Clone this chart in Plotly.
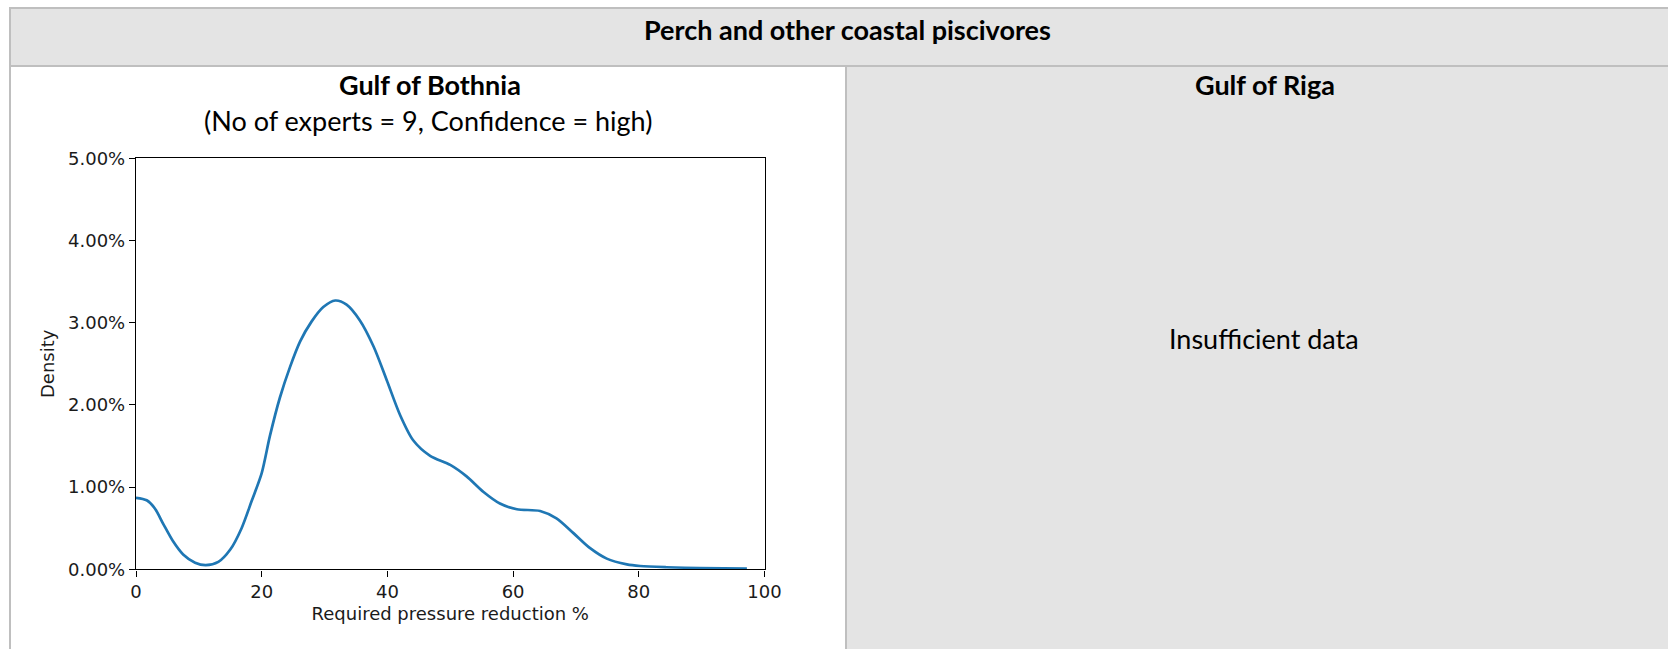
import plotly.graph_objects as go

# ---- data ----
reduction_pct = [0, 1.7, 3.0, 4.35, 5.9, 7.5, 9.4, 11.1, 13.1, 15.0, 16.8, 18.4, 20.0, 21.3,
                 22.9, 24.5, 26.1, 27.9, 29.8, 31.7, 33.5, 35.6, 37.8, 39.9, 42.0, 44.1, 46.8,
                 50.0, 52.6, 55.3, 57.9, 60.6, 64.3, 66.9, 69.6, 72.2, 74.9, 78.1, 80.2, 84.4,
                 89.7, 97.2]
density_pct = [0.87, 0.84, 0.74, 0.55, 0.34, 0.18, 0.08, 0.05, 0.09, 0.24, 0.50, 0.83, 1.17, 1.62,
               2.09, 2.46, 2.77, 3.01, 3.19, 3.27, 3.22, 3.03, 2.71, 2.30, 1.88, 1.57, 1.38,
               1.27, 1.13, 0.94, 0.80, 0.73, 0.71, 0.62, 0.44, 0.26, 0.13, 0.06, 0.04, 0.025,
               0.015, 0.01]
x_ticks = [0, 20, 40, 60, 80, 100]
y_ticks = [0.00, 0.01, 0.02, 0.03, 0.04, 0.05]

header_title = "Perch and other coastal piscivores"
left_title = "Gulf of Bothnia"
left_subtitle = "(No of experts = 9, Confidence = high)"
right_title = "Gulf of Riga"
right_note = "Insufficient data"

W, H = 1668, 649


def px(x):
    return x / W


def py(y):
    return 1 - y / H


density = [d / 100 for d in density_pct]

fig = go.Figure()
fig.add_trace(go.Scatter(
    x=reduction_pct, y=density, mode="lines",
    line=dict(color="#1f77b4", width=2.7, shape="spline", smoothing=0.8),
    showlegend=False, hoverinfo="skip"))

BORDER = "#bfbfbf"
FILL = "#e4e4e4"
shapes = [
    # header band
    dict(type="rect", xref="paper", yref="paper", x0=px(10), x1=1, y0=py(66), y1=py(8),
         fillcolor=FILL, line=dict(width=0), layer="below"),
    # right cell
    dict(type="rect", xref="paper", yref="paper", x0=px(846), x1=1, y0=0, y1=py(66),
         fillcolor=FILL, line=dict(width=0), layer="below"),
    # borders
    dict(type="line", xref="paper", yref="paper", x0=px(9), x1=1, y0=py(8), y1=py(8),
         line=dict(color=BORDER, width=2)),
    dict(type="line", xref="paper", yref="paper", x0=px(9), x1=1, y0=py(66), y1=py(66),
         line=dict(color=BORDER, width=2)),
    dict(type="line", xref="paper", yref="paper", x0=px(10), x1=px(10), y0=0, y1=py(7),
         line=dict(color=BORDER, width=2)),
    dict(type="line", xref="paper", yref="paper", x0=px(846), x1=px(846), y0=0, y1=py(66),
         line=dict(color=BORDER, width=2)),
]

TITLE_FONT = "Lato, 'Open Sans', sans-serif"
annotations = [
    dict(text="<b>%s</b>" % header_title, x=px(848), y=py(30), xref="paper", yref="paper",
         showarrow=False, xanchor="center", yanchor="middle",
         font=dict(family=TITLE_FONT, size=27, color="#000")),
    dict(text="<b>%s</b>" % left_title, x=px(430), y=py(85), xref="paper", yref="paper",
         showarrow=False, xanchor="center", yanchor="middle",
         font=dict(family=TITLE_FONT, size=27, color="#000")),
    dict(text=left_subtitle, x=px(428), y=py(121), xref="paper", yref="paper",
         showarrow=False, xanchor="center", yanchor="middle",
         font=dict(family=TITLE_FONT, size=27, color="#000")),
    dict(text="<b>%s</b>" % right_title, x=px(1265), y=py(85), xref="paper", yref="paper",
         showarrow=False, xanchor="center", yanchor="middle",
         font=dict(family=TITLE_FONT, size=27, color="#000")),
    dict(text=right_note, x=px(1264), y=py(338), xref="paper", yref="paper",
         showarrow=False, xanchor="center", yanchor="middle",
         font=dict(family=TITLE_FONT, size=27, color="#000")),
]

AX_FONT = dict(family="DejaVu Sans", size=18, color="#1a1a1a")
fig.update_layout(
    width=W, height=H,
    margin=dict(l=0, r=0, t=0, b=0, pad=0, autoexpand=False),
    paper_bgcolor="white", plot_bgcolor="white",
    shapes=shapes, annotations=annotations,
    xaxis=dict(domain=[px(136), px(764.5)], range=[0, 100], tickvals=x_ticks,
               automargin=False,
               showgrid=False, zeroline=False, showline=True, mirror=True,
               linecolor="#000", linewidth=1.4, ticks="outside", ticklen=6, tickwidth=1.4,
               tickcolor="#000", tickfont=AX_FONT,
               title=dict(text="Required pressure reduction %", font=AX_FONT, standoff=6)),
    yaxis=dict(domain=[py(569.3), py(158.3)], range=[0, 0.05], tickvals=y_ticks,
               automargin=False,
               tickformat=".2%", showgrid=False, zeroline=False, showline=True, mirror=True,
               linecolor="#000", linewidth=1.4, ticks="outside", ticklen=6, tickwidth=1.4,
               tickcolor="#000", tickfont=AX_FONT,
               title=dict(text="Density", font=AX_FONT, standoff=8)),
)

fig.write_html("out.html")
